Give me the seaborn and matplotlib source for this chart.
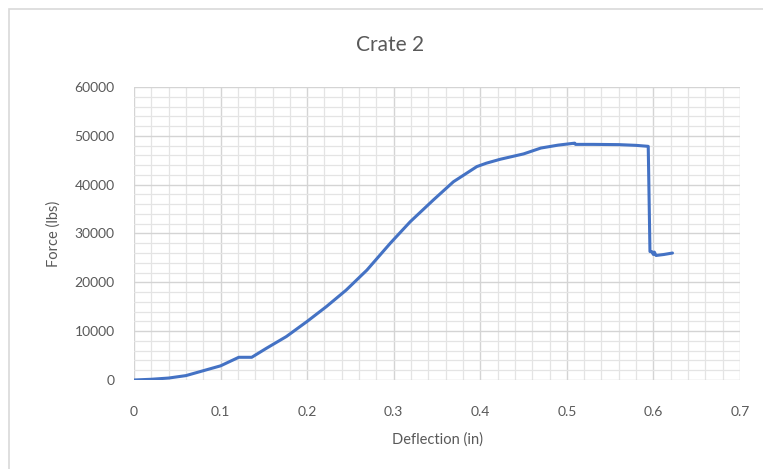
import matplotlib
matplotlib.use("Agg")
import matplotlib.pyplot as plt
import seaborn as sns
import pandas as pd
from matplotlib.ticker import MultipleLocator
from matplotlib.patches import Rectangle

# values
deflection = [0.0, 0.02, 0.04, 0.06, 0.08, 0.10, 0.121, 0.136, 0.153, 0.176,
              0.20, 0.222, 0.245, 0.269, 0.296, 0.319, 0.346, 0.369, 0.396,
              0.407, 0.423, 0.45, 0.47, 0.49, 0.509, 0.510, 0.53, 0.56, 0.58,
              0.594, 0.596, 0.598, 0.600, 0.601, 0.603, 0.612, 0.622]
force = [0, 150, 400, 900, 1900, 2900, 4650, 4650, 6500, 8900,
         12000, 15000, 18400, 22500, 28000, 32400, 36900, 40600, 43700,
         44400, 45200, 46300, 47500, 48100, 48500, 48250, 48250, 48200, 48050,
         47850, 26300, 26300, 25700, 26200, 25500, 25700, 26000]

df = pd.DataFrame({"Deflection (in)": deflection, "Force (lbs)": force})

sns.set_style("white")
plt.rcParams["font.family"] = ["Lato", "DejaVu Sans"]

fig = plt.figure(figsize=(7.63, 4.69), dpi=100)
ax = fig.add_axes([134 / 763, 1 - 380 / 469, 606 / 763, 293 / 469])

sns.lineplot(data=df, x="Deflection (in)", y="Force (lbs)", sort=False,
             estimator=None, color="#4472C4", linewidth=2.2, ax=ax, zorder=3)

ax.set_xlim(0, 0.7)
ax.set_ylim(0, 60000)
ax.xaxis.set_minor_locator(MultipleLocator(0.02))
ax.yaxis.set_major_locator(MultipleLocator(10000))
ax.yaxis.set_minor_locator(MultipleLocator(2000))
ax.set_xticks([0, 0.1, 0.2, 0.3, 0.4, 0.5, 0.6, 0.7])
ax.set_xticklabels(["0", "0.1", "0.2", "0.3", "0.4", "0.5", "0.6", "0.7"])
ax.grid(which="major", color="#d4d4d4", linewidth=1.0)
ax.grid(which="minor", color="#e4e4e4", linewidth=0.9)
ax.set_axisbelow(True)
for s in ax.spines.values():
    s.set_visible(False)
ax.tick_params(which="both", length=0, colors="#595959", labelsize=10)
ax.tick_params(axis="x", pad=19)
ax.tick_params(axis="y", pad=14)

ax.set_xlabel("Deflection (in)", fontsize=10.5, color="#595959", labelpad=10)
ax.set_ylabel("Force (lbs)", fontsize=10.5, color="#595959", labelpad=10)
fig.text(390 / 763, 1 - 45 / 469, "Crate 2", fontsize=15, color="#595959",
         ha="center", va="center")

# chart area border (cropped on right and bottom)
fig.patches.append(Rectangle((9 / 763, -0.1), 1.2, 1 - 9 / 469 + 0.1,
                             transform=fig.transFigure, fill=False,
                             edgecolor="#d9d9d9", linewidth=1.2))

fig.savefig("out.png", dpi=100)
